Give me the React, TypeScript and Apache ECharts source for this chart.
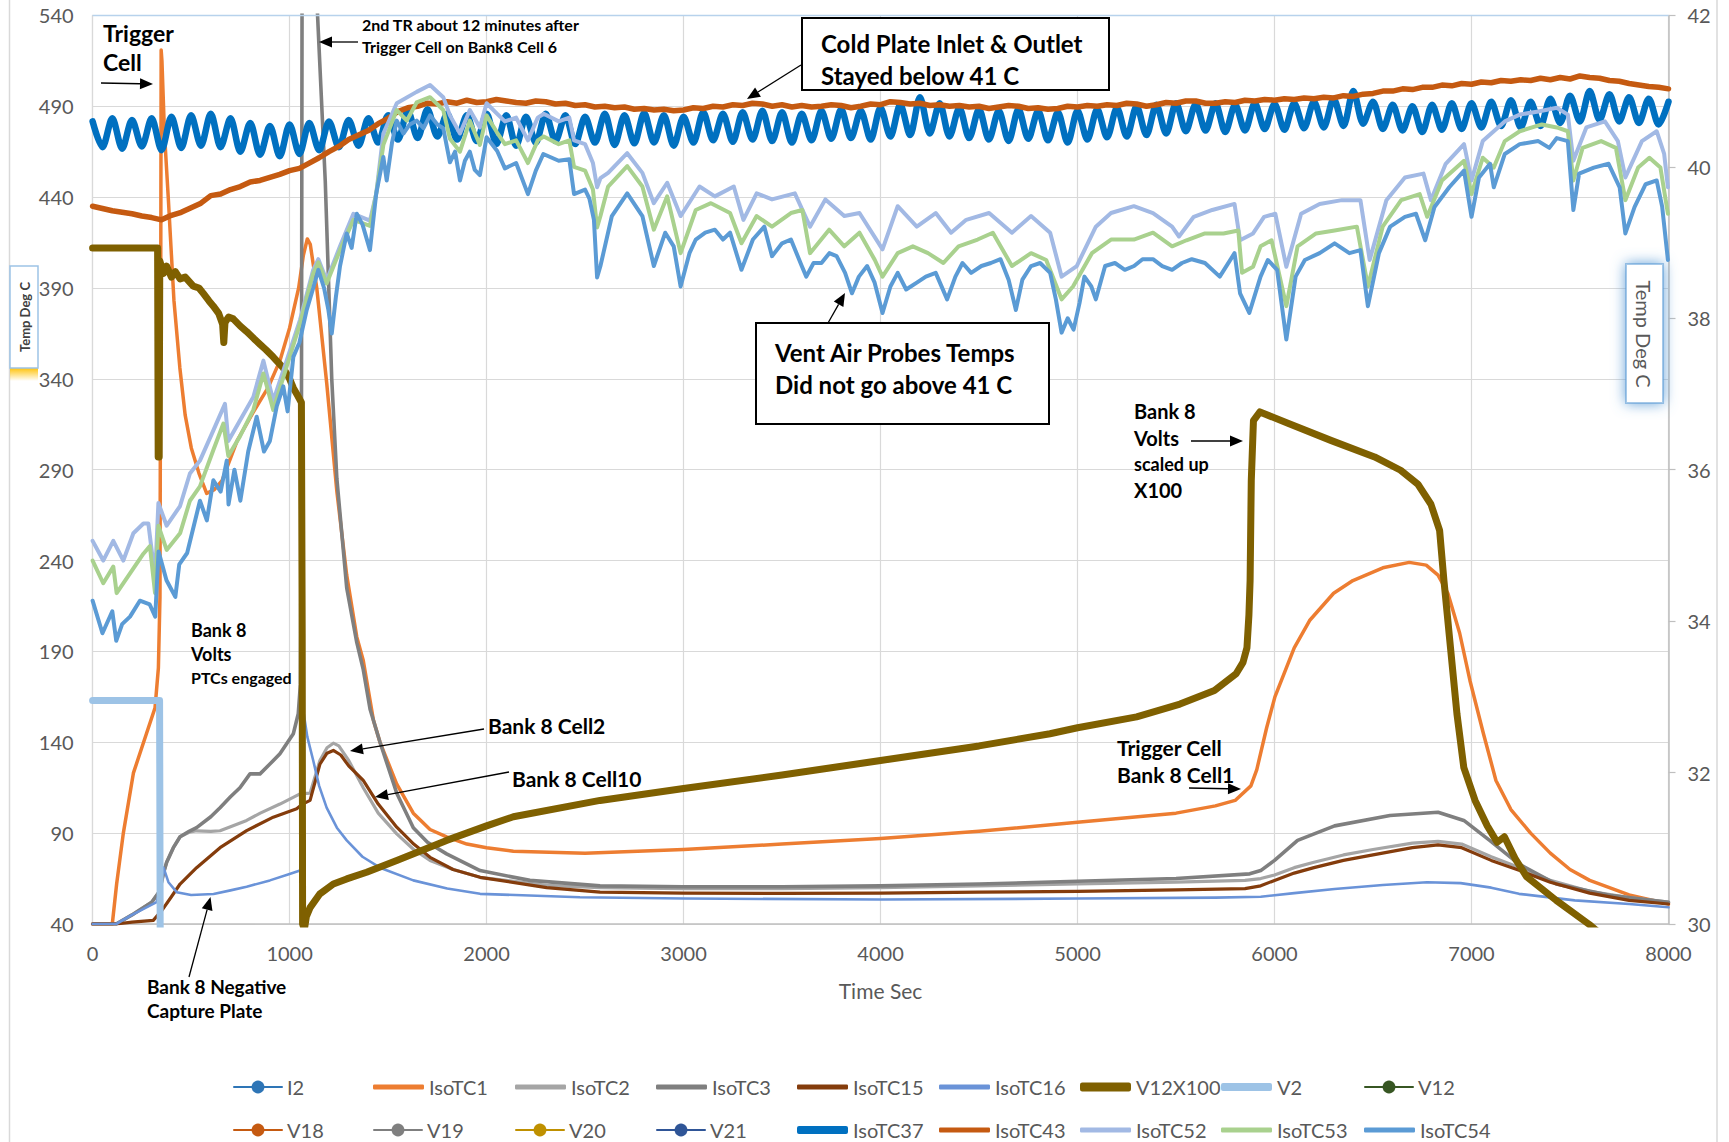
import React, { useEffect, useRef } from "react";
import * as echarts from "echarts";

const FONT = "Lato, 'Open Sans', 'DejaVu Sans', sans-serif";

// ---------- data (time s, value) ----------
const i2: number[][] = [];
const v12: number[][] = [];
const v18: number[][] = [];
const v19: number[][] = [];
const v20: number[][] = [];
const v21: number[][] = [];

const isoTC1 = [[0,40],[100,40],[122,62],[156,90],[207,123],[274,145],[317,159],[334,181],[342,220],[346,400],[348,521],[352,515],[365,475],[385,438],[413,383],[443,346],[470,320],[501,302],[540,288],[579,277],[618,279],[657,284],[734,306],[812,321],[890,335],[951,350],[1000,368],[1046,390],[1070,408],[1090,417],[1105,414],[1138,390],[1189,337],[1240,278],[1290,232],[1341,198],[1374,185],[1426,152],[1459,140],[1544,117],[1628,101],[1713,92],[1797,88],[1900,84],[2000,82],[2136,80],[2500,79],[3000,81],[3500,84],[4000,87],[4500,91],[5000,96],[5500,101],[5700,105],[5800,108],[5880,116],[5910,125],[5960,148],[6002,165],[6100,192],[6178,207],[6300,222],[6398,229],[6550,236],[6684,239],[6770,237.5],[6830,232],[6880,222],[6940,200],[6992,174],[7060,145],[7124,119],[7200,103],[7300,90],[7400,79],[7500,70],[7600,64],[7800,56],[8000,51]];

const isoTC2 = [[0,40],[120,40],[200,45],[300,52],[340,58],[360,68],[376,74],[410,82],[444,88],[490,90.5],[528,91.3],[600,91],[647,91.3],[700,93.5],[782,97],[851,101],[951,106],[1053,111.6],[1104,112],[1154,130],[1190,137],[1222,139.5],[1250,138],[1300,130],[1374,115],[1450,101],[1544,89.6],[1630,81],[1713,75],[1830,70],[1967,65.7],[2305,61.3],[2576,60],[3000,59.5],[3500,59.5],[4000,60],[4500,61],[5000,62],[5500,63],[5850,64],[5930,65],[6000,67],[6100,71],[6200,74],[6350,78],[6500,81],[6700,84.5],[6830,85.5],[6950,84],[7100,77],[7245,71],[7400,64],[7600,58],[7800,54.5],[8000,52]];

const isoTC3 = [[0,40],[120,40],[200,45],[300,52],[340,58],[360,68],[376,74],[410,82],[444,88],[490,91],[528,93],[600,99],[647,104],[700,110],[748,115],[799,122.6],[850,122.6],[900,128],[951,133.7],[1019,144.7],[1044,155.7],[1055,172],[1060,300],[1064,600],[1100,640],[1142,540],[1181,449],[1214,340],[1240,285],[1290,225],[1341,195],[1374,180],[1409,158],[1459,140],[1544,112],[1628,93],[1700,85],[1797,78.6],[1967,69.4],[2220,64],[2576,61],[3000,60.5],[3500,60.5],[4000,61],[4500,62],[5000,63.5],[5500,65],[5874,67.6],[5930,69.4],[6000,75],[6117,86],[6305,94],[6586,99.7],[6830,101.5],[6961,97],[7092,86],[7241,73],[7430,62],[7711,55.6],[8000,52]];

const isoTC15 = [[0,40],[120,40],[200,41],[308,42],[351,47.4],[400,55],[444,62],[528,71],[647,82],[782,91.4],[917,98.8],[1036,103.4],[1066,106],[1104,108],[1154,128],[1190,134],[1222,135.5],[1260,133],[1300,127],[1374,119],[1450,106],[1544,93.3],[1630,84],[1713,76.7],[1830,70],[1967,65.7],[2305,60],[2576,57.5],[3000,57],[3500,56.8],[4000,57],[4500,57.5],[5000,58],[5500,58.8],[5850,59.5],[5930,61],[6000,64],[6100,68],[6200,71],[6350,75],[6500,78],[6700,82],[6830,83.5],[6950,82],[7100,75],[7245,69.4],[7400,63],[7600,57],[7800,53],[8000,51]];

const isoTC16 = [[0,40],[120,40],[200,45],[325,52],[345,60],[360,71],[385,63],[427,57.5],[500,56],[614,56.5],[700,58.5],[782,60.5],[900,64],[1000,67.5],[1053,69.4],[1064,72],[1070,157],[1090,143],[1120,130],[1150,116],[1188,104],[1240,93],[1290,86],[1370,77],[1459,71],[1628,64],[1800,59.5],[1967,56.6],[2474,54.7],[3000,54],[4000,53.5],[5000,54],[5700,54.5],[5930,55],[6100,57],[6305,59.3],[6550,61.5],[6774,63],[6945,62.5],[7100,60],[7241,56.6],[7524,53],[7800,51],[8000,49.2]];

const v12x100 = [[0,412],[330,412],[333,297],[338,297],[341,405],[360,398],[376,402],[400,396],[420,399],[444,395],[470,396],[511,391],[540,390],[562,387],[590,383],[613,380],[640,376],[660,370],[666,360],[672,371],[690,374],[714,373],[750,369],[782,366],[820,362],[850,359],[880,356],[917,352],[968,346],[1000,340],[1019,335],[1040,331],[1060,327],[1064,200],[1066,40],[1075,37],[1085,44],[1104,49],[1154,56.6],[1222,62],[1290,64.8],[1391,68.5],[1544,75],[1797,86],[2000,94],[2136,99],[2576,108],[3000,114.6],[3500,122],[4000,130],[4500,138],[4860,144.7],[5000,148],[5300,154],[5520,161],[5695,168.5],[5805,177.7],[5840,184],[5860,192],[5870,210],[5876,229],[5882,284],[5893,317],[5926,321.8],[6068,315.5],[6289,306],[6508,297],[6640,289.7],[6728,282],[6794,271],[6838,256.6],[6860,229],[6893,192.4],[6926,155.7],[6961,126],[7018,108],[7080,94],[7130,85],[7167,88],[7224,75.5],[7280,66],[7430,53],[7598,39.7],[7650,35]];

const v2 = [[0,163],[340,163],[343,40],[345,20]];

// right axis (deg C)
const isoTC37 = [[0,40.6],[50,40.26],[100,40.64],[150,40.24],[200,40.62],[250,40.27],[300,40.64],[350,40.22],[400,40.66],[450,40.25],[500,40.68],[550,40.28],[600,40.7],[650,40.26],[700,40.64],[750,40.2],[800,40.58],[850,40.16],[900,40.54],[950,40.14],[1000,40.56],[1050,40.17],[1100,40.58],[1150,40.22],[1200,40.6],[1250,40.26],[1300,40.62],[1350,40.28],[1400,40.64],[1450,40.32],[1500,40.68],[1550,40.36],[1600,40.74],[1650,40.38],[1700,40.76],[1750,40.4],[1800,40.7],[1850,40.36],[1900,40.68],[1950,40.34],[2000,40.7],[2050,40.3],[2100,40.68],[2150,40.28],[2200,40.66],[2250,40.32],[2300,40.7],[2350,40.34],[2400,40.68],[2450,40.3],[2500,40.66],[2550,40.32],[2600,40.7],[2650,40.29],[2700,40.68],[2750,40.31],[2800,40.71],[2850,40.32],[2900,40.68],[2950,40.28],[3000,40.66],[3050,40.32],[3100,40.72],[3150,40.35],[3200,40.7],[3250,40.33],[3300,40.72],[3350,40.36],[3400,40.74],[3450,40.34],[3500,40.72],[3550,40.32],[3600,40.7],[3650,40.35],[3700,40.74],[3750,40.37],[3800,40.76],[3850,40.38],[3900,40.74],[3950,40.36],[4000,40.78],[4050,40.4],[4100,40.82],[4150,40.42],[4200,40.92],[4250,40.44],[4300,40.84],[4350,40.4],[4400,40.78],[4450,40.38],[4500,40.76],[4550,40.36],[4600,40.74],[4650,40.34],[4700,40.76],[4750,40.37],[4800,40.74],[4850,40.35],[4900,40.72],[4950,40.32],[5000,40.74],[5050,40.36],[5100,40.76],[5150,40.39],[5200,40.78],[5250,40.4],[5300,40.8],[5350,40.42],[5400,40.82],[5450,40.44],[5500,40.84],[5550,40.47],[5600,40.83],[5650,40.48],[5700,40.84],[5750,40.46],[5800,40.82],[5850,40.48],[5900,40.84],[5950,40.5],[6000,40.83],[6050,40.49],[6100,40.84],[6150,40.51],[6200,40.86],[6250,40.52],[6300,40.9],[6350,40.54],[6400,41.0],[6450,40.57],[6500,40.86],[6550,40.5],[6600,40.82],[6650,40.48],[6700,40.8],[6750,40.46],[6800,40.82],[6850,40.49],[6900,40.84],[6950,40.5],[7000,40.84],[7050,40.52],[7100,40.86],[7150,40.54],[7200,40.88],[7250,40.52],[7300,40.86],[7350,40.54],[7400,40.9],[7450,40.58],[7500,40.94],[7550,40.6],[7600,41.0],[7650,40.62],[7700,40.96],[7750,40.6],[7800,40.92],[7850,40.58],[7900,40.9],[7950,40.56],[8000,40.86]];

const isoTC43 = [[0,39.48],[50,39.45],[100,39.42],[150,39.4],[200,39.38],[250,39.35],[300,39.33],[350,39.3],[400,39.36],[450,39.4],[500,39.46],[550,39.52],[600,39.62],[650,39.64],[700,39.7],[750,39.74],[800,39.8],[850,39.82],[900,39.86],[950,39.9],[1000,39.95],[1050,39.98],[1100,40.05],[1150,40.12],[1200,40.2],[1250,40.27],[1300,40.36],[1350,40.42],[1400,40.48],[1450,40.57],[1500,40.64],[1550,40.73],[1600,40.78],[1650,40.8],[1700,40.84],[1750,40.83],[1800,40.86],[1850,40.84],[1900,40.88],[1950,40.85],[2000,40.86],[2050,40.89],[2100,40.87],[2150,40.85],[2200,40.84],[2250,40.87],[2300,40.86],[2350,40.83],[2400,40.84],[2450,40.81],[2500,40.82],[2550,40.79],[2600,40.8],[2650,40.78],[2700,40.79],[2750,40.76],[2800,40.77],[2850,40.75],[2900,40.76],[2950,40.74],[3000,40.75],[3050,40.78],[3100,40.77],[3150,40.8],[3200,40.79],[3250,40.82],[3300,40.81],[3350,40.84],[3400,40.83],[3450,40.8],[3500,40.82],[3550,40.79],[3600,40.81],[3650,40.79],[3700,40.8],[3750,40.82],[3800,40.81],[3850,40.78],[3900,40.8],[3950,40.83],[4000,40.82],[4050,40.86],[4100,40.85],[4150,40.83],[4200,40.84],[4250,40.81],[4300,40.82],[4350,40.8],[4400,40.81],[4450,40.79],[4500,40.8],[4550,40.77],[4600,40.79],[4650,40.81],[4700,40.8],[4750,40.77],[4800,40.78],[4850,40.76],[4900,40.77],[4950,40.8],[5000,40.79],[5050,40.81],[5100,40.8],[5150,40.82],[5200,40.81],[5250,40.84],[5300,40.83],[5350,40.8],[5400,40.82],[5450,40.85],[5500,40.84],[5550,40.87],[5600,40.87],[5650,40.84],[5700,40.84],[5750,40.86],[5800,40.85],[5850,40.88],[5900,40.87],[5950,40.89],[6000,40.88],[6050,40.9],[6100,40.89],[6150,40.91],[6200,40.9],[6250,40.92],[6300,40.91],[6350,40.94],[6400,40.93],[6450,40.96],[6500,40.97],[6550,41.0],[6600,41.0],[6650,41.03],[6700,41.02],[6750,41.05],[6800,41.05],[6850,41.08],[6900,41.07],[6950,41.1],[7000,41.09],[7050,41.12],[7100,41.11],[7150,41.14],[7200,41.13],[7250,41.15],[7300,41.14],[7350,41.17],[7400,41.15],[7450,41.18],[7500,41.16],[7550,41.2],[7600,41.18],[7650,41.17],[7700,41.14],[7750,41.13],[7800,41.1],[7850,41.08],[7900,41.06],[7950,41.05],[8000,41.03]];

const isoTC52 = [[0,35.06],[54,34.8],[105,35.06],[156,34.8],[207,35.16],[258,35.29],[283,35.29],[317,34.58],[334,35.56],[376,35.26],[444,35.52],[494,35.95],[545,36.12],[613,36.52],[672,36.87],[689,36.38],[748,36.65],[816,36.96],[867,37.44],[917,36.91],[985,37.44],[1053,37.98],[1120,38.64],[1146,38.78],[1188,38.5],[1256,38.95],[1324,39.38],[1408,39.29],[1440,39.65],[1476,40.44],[1544,40.84],[1645,40.99],[1713,41.08],[1780,40.92],[1814,40.68],[1865,40.44],[1915,40.75],[1966,40.52],[2000,40.84],[2054,40.7],[2093,40.6],[2150,40.65],[2210,40.35],[2260,40.65],[2290,40.7],[2366,40.6],[2420,40.65],[2444,40.35],[2500,40.3],[2540,40.05],[2561,39.73],[2578,39.85],[2617,39.92],[2714,40.18],[2791,39.92],[2849,39.52],[2917,39.79],[2985,39.35],[3081,39.74],[3159,39.61],[3255,39.74],[3304,39.3],[3371,39.65],[3449,39.57],[3565,39.65],[3642,39.21],[3720,39.57],[3816,39.35],[3893,39.39],[4010,38.91],[4087,39.48],[4184,39.21],[4280,39.39],[4358,39.13],[4435,39.3],[4551,39.39],[4667,39.13],[4764,39.35],[4861,39.13],[4919,38.55],[4996,38.69],[5093,39.21],[5170,39.39],[5286,39.48],[5383,39.39],[5480,39.21],[5515,39.08],[5590,39.34],[5684,39.43],[5797,39.51],[5825,39.03],[5891,39.12],[5947,39.34],[6004,39.38],[6060,38.68],[6135,39.38],[6229,39.51],[6342,39.56],[6436,39.56],[6483,38.77],[6568,39.56],[6662,39.86],[6756,39.91],[6794,39.56],[6869,40.04],[6962,40.3],[7000,39.82],[7057,40.34],[7169,40.6],[7245,40.69],[7339,40.73],[7433,40.78],[7489,40.69],[7517,40.08],[7583,40.52],[7677,40.6],[7743,40.34],[7781,39.86],[7865,40.34],[7940,40.47],[7978,40.17],[7997,39.73]];

const isoTC53 = [[0,34.8],[54,34.5],[105,34.72],[122,34.37],[190,34.63],[258,34.89],[291,34.99],[317,34.37],[334,35.26],[376,34.94],[444,35.16],[494,35.59],[545,35.78],[613,36.26],[664,36.61],[689,36.18],[748,36.44],[816,36.79],[867,37.27],[917,36.79],[985,37.36],[1053,37.93],[1120,38.59],[1146,38.74],[1188,38.46],[1256,38.9],[1324,39.3],[1408,39.22],[1440,39.65],[1476,40.29],[1544,40.75],[1595,40.61],[1645,40.85],[1713,40.92],[1780,40.75],[1814,40.37],[1865,40.2],[1915,40.61],[1966,40.29],[2000,40.68],[2054,40.45],[2093,40.3],[2150,40.35],[2210,40.05],[2260,40.35],[2290,40.4],[2366,40.3],[2420,40.35],[2444,40.0],[2500,39.95],[2540,39.7],[2561,39.2],[2578,39.35],[2617,39.74],[2714,40.01],[2791,39.74],[2849,39.17],[2917,39.61],[2985,38.86],[3062,39.43],[3139,39.52],[3236,39.39],[3294,38.99],[3371,39.35],[3449,39.21],[3545,39.39],[3603,39.43],[3642,38.86],[3739,39.17],[3816,38.95],[3893,39.13],[3971,38.77],[4010,38.55],[4087,38.86],[4164,38.95],[4241,38.86],[4319,38.73],[4396,38.95],[4493,39.04],[4570,39.13],[4667,38.69],[4764,38.86],[4841,38.77],[4919,38.25],[4977,38.42],[5073,38.86],[5170,39.04],[5286,39.04],[5383,39.13],[5480,38.95],[5553,39.03],[5647,39.12],[5741,39.12],[5816,39.16],[5835,38.6],[5891,38.68],[5929,38.95],[5985,39.03],[6060,38.16],[6117,38.95],[6211,39.12],[6305,39.16],[6418,39.21],[6474,38.42],[6549,39.21],[6643,39.56],[6737,39.64],[6775,39.34],[6850,39.82],[6962,40.08],[7000,39.64],[7057,40.12],[7113,39.99],[7169,40.34],[7245,40.47],[7357,40.56],[7433,40.52],[7489,40.47],[7517,39.82],[7564,40.25],[7658,40.34],[7733,40.25],[7781,39.56],[7846,39.99],[7903,40.12],[7959,39.99],[7997,39.38]];

const isoTC54 = [[0,34.27],[50,33.84],[100,34.13],[120,33.74],[150,33.96],[190,34.06],[240,34.27],[290,34.22],[318,34.06],[335,34.92],[375,34.54],[420,34.32],[440,34.75],[480,34.9],[545,35.59],[580,35.33],[613,35.86],[650,35.71],[681,36.12],[690,35.54],[720,36.0],[750,35.59],[790,36.24],[833,36.7],[870,36.24],[900,36.38],[935,36.84],[968,37.1],[990,36.77],[1019,37.49],[1050,37.68],[1087,38.11],[1120,38.4],[1146,38.64],[1175,38.4],[1197,38.11],[1214,37.8],[1235,38.28],[1256,38.69],[1290,39.12],[1315,38.93],[1341,39.38],[1370,39.24],[1408,38.9],[1440,39.65],[1476,40.13],[1493,39.82],[1520,40.32],[1544,40.61],[1578,40.44],[1610,40.56],[1645,40.61],[1680,40.51],[1713,40.68],[1750,40.56],[1780,40.51],[1814,40.06],[1840,40.2],[1865,39.82],[1890,40.08],[1915,40.2],[1940,39.96],[1966,39.89],[2000,40.39],[2054,40.21],[2093,39.98],[2150,40.05],[2210,39.64],[2250,39.95],[2288,40.17],[2366,40.08],[2420,40.1],[2444,39.64],[2500,39.7],[2522,39.58],[2545,39.3],[2561,38.54],[2578,38.69],[2636,39.35],[2714,39.65],[2791,39.35],[2849,38.69],[2907,39.13],[2950,38.95],[2985,38.42],[3030,38.86],[3062,39.04],[3110,39.13],[3159,39.17],[3200,39.04],[3236,39.13],[3294,38.64],[3352,39.04],[3410,39.21],[3449,38.82],[3500,38.99],[3545,39.04],[3600,38.69],[3623,38.55],[3660,38.73],[3700,38.73],[3740,38.86],[3777,38.82],[3820,38.6],[3855,38.33],[3890,38.55],[3932,38.69],[3970,38.47],[4010,38.07],[4050,38.42],[4087,38.6],[4130,38.38],[4184,38.47],[4230,38.55],[4280,38.6],[4338,38.25],[4380,38.55],[4416,38.73],[4460,38.6],[4512,38.69],[4560,38.73],[4609,38.78],[4650,38.51],[4687,38.11],[4720,38.51],[4764,38.69],[4810,38.73],[4861,38.6],[4890,38.25],[4919,37.81],[4950,38.0],[4980,37.85],[5010,38.2],[5035,38.55],[5070,38.42],[5093,38.25],[5140,38.69],[5190,38.73],[5240,38.64],[5287,38.69],[5330,38.78],[5383,38.78],[5430,38.69],[5480,38.64],[5530,38.73],[5580,38.78],[5647,38.73],[5722,38.55],[5797,38.86],[5825,38.33],[5872,38.07],[5929,38.55],[5966,38.77],[6013,38.64],[6060,37.72],[6107,38.55],[6154,38.77],[6229,38.86],[6305,38.99],[6380,38.86],[6436,38.9],[6474,38.16],[6530,38.86],[6587,39.21],[6662,39.34],[6718,39.38],[6765,39.03],[6812,39.47],[6887,39.73],[6962,39.95],[7000,39.34],[7038,39.86],[7094,40.04],[7113,39.73],[7169,40.17],[7245,40.3],[7339,40.34],[7395,40.25],[7433,40.38],[7489,40.34],[7517,39.43],[7546,39.91],[7621,39.99],[7696,40.04],[7752,39.73],[7781,39.12],[7828,39.47],[7884,39.77],[7940,39.82],[7968,39.47],[7997,38.77]];

const legendRow1 = ["I2", "IsoTC1", "IsoTC2", "IsoTC3", "IsoTC15", "IsoTC16", "V12X100", "V2", "V12"];
const legendRow2 = ["V18", "V19", "V20", "V21", "IsoTC37", "IsoTC43", "IsoTC52", "IsoTC53", "IsoTC54"];

// ---------- styling ----------
type Def = { name: string; data: number[][]; color: string; width: number; axis: number; marker?: boolean; legendH?: number; smooth?: number };
const defs: Def[] = [
  { name: "I2", data: i2, color: "#2e75b6", width: 3.5, axis: 0, marker: true },
  { name: "IsoTC1", data: isoTC1, color: "#ed7d31", width: 3.5, axis: 0, legendH: 5 },
  { name: "IsoTC2", data: isoTC2, color: "#a5a5a5", width: 3.2, axis: 0, legendH: 5 },
  { name: "IsoTC3", data: isoTC3, color: "#7f7f7f", width: 3.6, axis: 0, legendH: 5 },
  { name: "IsoTC15", data: isoTC15, color: "#843c0c", width: 3.2, axis: 0, legendH: 5 },
  { name: "IsoTC16", data: isoTC16, color: "#6a93d8", width: 2.6, axis: 0, legendH: 5 },
  { name: "V12X100", data: v12x100, color: "#7f6000", width: 7, axis: 0, legendH: 9 },
  { name: "V2", data: v2, color: "#9dc3e6", width: 7, axis: 0, legendH: 8 },
  { name: "V12", data: v12, color: "#375623", width: 3.5, axis: 0, marker: true },
  { name: "V18", data: v18, color: "#c55a11", width: 3.5, axis: 0, marker: true },
  { name: "V19", data: v19, color: "#7f7f7f", width: 3.5, axis: 0, marker: true },
  { name: "V20", data: v20, color: "#bf9000", width: 3.5, axis: 0, marker: true },
  { name: "V21", data: v21, color: "#2f5597", width: 3.5, axis: 0, marker: true },
  { name: "IsoTC37", data: isoTC37, color: "#0070c0", width: 6.5, axis: 1, legendH: 8, smooth: 0.3 },
  { name: "IsoTC43", data: isoTC43, color: "#c55a11", width: 5.5, axis: 1, legendH: 5 },
  { name: "IsoTC52", data: isoTC52, color: "#a2b9e4", width: 4, axis: 1, legendH: 5 },
  { name: "IsoTC53", data: isoTC53, color: "#a9d18e", width: 4, axis: 1, legendH: 5 },
  { name: "IsoTC54", data: isoTC54, color: "#5b9bd5", width: 4, axis: 1, legendH: 5 },
];

const GRID = { left: 92.6, right: 60.5, top: 15.4, bottom: 218 };
const legendCols = [233, 373, 515, 656, 797, 939, 1080, 1221, 1364];
const legendRowsY = [1087, 1130];

function arrow(x1: number, y1: number, x2: number, y2: number, head = 13, w = 5.5) {
  const dx = x2 - x1, dy = y2 - y1;
  const len = Math.hypot(dx, dy);
  const ux = dx / len, uy = dy / len;
  const bx = x2 - ux * head, by = y2 - uy * head;
  return [
    { type: "line", z: 100, shape: { x1, y1, x2: bx, y2: by }, style: { stroke: "#000", lineWidth: 1.3 } },
    { type: "polygon", z: 100, shape: { points: [[x2, y2], [bx - uy * w, by + ux * w], [bx + uy * w, by - ux * w]] }, style: { fill: "#000" } },
  ];
}

function txt(x: number, y: number, text: string, size: number, weight: string = "bold", extra: any = {}) {
  return {
    type: "text", z: 101, x, y, ...extra,
    style: {
      text, fontSize: size, fontWeight: weight, fontFamily: FONT, fill: extra.fill || "#000",
      align: extra.align || "left", textAlign: extra.align || "left",
      verticalAlign: "middle", textVerticalAlign: "middle",
    },
  };
}

export default function App() {
  const ref = useRef<HTMLDivElement>(null);
  useEffect(() => {
    if (!ref.current) return;
    const chart = echarts.init(ref.current, null, { renderer: "svg" });

    const series = defs.map((d) => ({
      name: d.name,
      type: "line",
      yAxisIndex: d.axis,
      data: d.data,
      symbol: d.marker ? "circle" : "none",
      showSymbol: false,
      smooth: d.smooth || false,
      color: d.color,
      itemStyle: { color: d.color },
      lineStyle: { color: d.color, width: d.width, cap: "round", join: "round" },
      emphasis: { disabled: true },
      animation: false,
    }));

    const legends: any[] = [];
    [legendRow1, legendRow2].forEach((names, r) =>
      names.forEach((n, c) => {
        const d = defs.find((x) => x.name === n)!;
        legends.push({
          show: true,
          selectedMode: false,
          left: legendCols[c],
          top: legendRowsY[r] - 11,
          padding: 0,
          itemGap: 0,
          itemWidth: d.marker ? 48 : 51,
          itemHeight: d.marker ? 16 : d.legendH,
          itemStyle: { borderWidth: 0 },
          textStyle: { fontSize: 20, color: "#595959", fontFamily: FONT, lineHeight: 22 },
          data: [d.marker ? { name: n } : { name: n, icon: "roundRect" }],
        });
      })
    );

    const graphics: any[] = [
      // outer chart border
      { type: "line", shape: { x1: 9.5, y1: 0, x2: 9.5, y2: 1142 }, style: { stroke: "#d9d9d9", lineWidth: 1.5 } },
      { type: "line", shape: { x1: 1717, y1: 0, x2: 1717, y2: 1142 }, style: { stroke: "#d9d9d9", lineWidth: 1.5 } },
      // top plot border (light blue)
      { type: "line", z: 90, shape: { x1: 92.6, y1: 15.4, x2: 1668.5, y2: 15.4 }, style: { stroke: "#b7d2ec", lineWidth: 1.5 } },
      // left axis title box
      { type: "rect", z: 100, shape: { x: 10, y: 368, width: 28, height: 13 },
        style: { fill: new echarts.graphic.LinearGradient(0, 0, 0, 1, [{ offset: 0, color: "rgba(255,192,0,0.95)" }, { offset: 1, color: "rgba(255,192,0,0)" }]) } },
      { type: "rect", z: 100, shape: { x: 10, y: 266, width: 28, height: 102 }, style: { fill: "#fff", stroke: "#9dc3e6", lineWidth: 1.5 } },
      txt(25, 317, "Temp Deg C", 13, "bold", { rotation: Math.PI / 2, align: "center", fill: "#404040" }),
      // right axis title box
      { type: "rect", z: 100, shape: { x: 1626, y: 264, width: 37, height: 139 },
        style: { fill: "#fff", stroke: "rgba(91,155,213,0.55)", lineWidth: 2, shadowBlur: 14, shadowColor: "rgba(91,155,213,0.95)" } },
      txt(1644, 334, "Temp Deg C", 20, "normal", { rotation: -Math.PI / 2, align: "center", fill: "#595959" }),
      // Trigger Cell (top left)
      txt(103, 33, "Trigger", 23),
      txt(103, 62, "Cell", 23),
      ...arrow(101, 83, 153, 84),
      // 2nd TR
      txt(362, 24, "2nd TR about 12 minutes after", 16),
      txt(362, 46, "Trigger Cell on Bank8 Cell 6", 16),
      ...arrow(358, 42, 319, 42),
      // Cold plate box
      { type: "rect", z: 100, shape: { x: 802, y: 18, width: 307, height: 72 }, style: { fill: "#fff", stroke: "#000", lineWidth: 2 } },
      txt(821, 43, "Cold Plate Inlet & Outlet", 24),
      txt(821, 75, "Stayed below 41 C", 24),
      ...arrow(801, 65, 747, 99),
      // Vent air box
      { type: "rect", z: 100, shape: { x: 756, y: 323, width: 293, height: 101 }, style: { fill: "#fff", stroke: "#000", lineWidth: 2 } },
      txt(775, 352, "Vent Air Probes Temps", 24),
      txt(775, 384, "Did not go above 41 C", 24),
      ...arrow(828, 323, 845, 293),
      // Bank 8 Volts scaled up
      txt(1134, 411, "Bank 8", 20),
      txt(1134, 438, "Volts", 20),
      txt(1134, 464, "scaled up", 18),
      txt(1134, 490, "X100", 20),
      ...arrow(1191, 441, 1243, 441),
      // Trigger Cell Bank 8 Cell1
      txt(1117, 747, "Trigger Cell", 21),
      txt(1117, 774, "Bank 8 Cell1", 21),
      ...arrow(1189, 788, 1241, 789),
      // Bank 8 Volts PTCs engaged
      txt(191, 630, "Bank 8", 18),
      txt(191, 654, "Volts", 18),
      txt(191, 677, "PTCs engaged", 16),
      // Bank 8 Cell2 / Cell10
      txt(488, 725, "Bank 8 Cell2", 21),
      ...arrow(484, 729, 350, 751),
      txt(512, 778, "Bank 8 Cell10", 21),
      ...arrow(509, 772, 375, 797),
      // Negative capture plate
      txt(147, 986, "Bank 8 Negative", 19),
      txt(147, 1010, "Capture Plate", 19),
      ...arrow(189, 977, 210.5, 897),
    ];

    chart.setOption({
      animation: false,
      backgroundColor: "#fff",
      grid: GRID,
      legend: legends,
      xAxis: {
        type: "value", min: 0, max: 8000, interval: 1000,
        axisLine: { show: true, lineStyle: { color: "#bfbfbf", width: 1.5 } },
        axisTick: { show: false },
        splitLine: { show: true, lineStyle: { color: "#d9d9d9", width: 1.2 } },
        axisLabel: { fontSize: 20, color: "#595959", fontFamily: FONT, margin: 19, formatter: (v: number) => String(v) },
        name: "Time Sec", nameLocation: "middle", nameGap: 56,
        nameTextStyle: { fontSize: 21, color: "#595959", fontFamily: FONT },
      },
      yAxis: [
        {
          type: "value", min: 40, max: 540, interval: 50, position: "left",
          axisLine: { show: true, lineStyle: { color: "#d9d9d9", width: 1.2 } },
          axisTick: { show: false },
          splitLine: { show: true, lineStyle: { color: "#d9d9d9", width: 1.2 } },
          axisLabel: { fontSize: 20, color: "#595959", fontFamily: FONT, margin: 19, formatter: (v: number) => String(v) },
        },
        {
          type: "value", min: 30, max: 42, interval: 2, position: "right",
          axisLine: { show: true, lineStyle: { color: "#bfbfbf", width: 1.5 } },
          axisTick: { show: true, length: 7, lineStyle: { color: "#bfbfbf", width: 1.2 } },
          splitLine: { show: false },
          axisLabel: { fontSize: 20, color: "#595959", fontFamily: FONT, margin: 19 },
        },
      ],
      series,
      graphic: graphics,
    });
    return () => chart.dispose();
  }, []);
  return (
    <div
      ref={ref}
      style={{ position: "fixed", left: 0, top: 0, width: 1729, height: 1142, background: "#fff" }}
    />
  );
}
